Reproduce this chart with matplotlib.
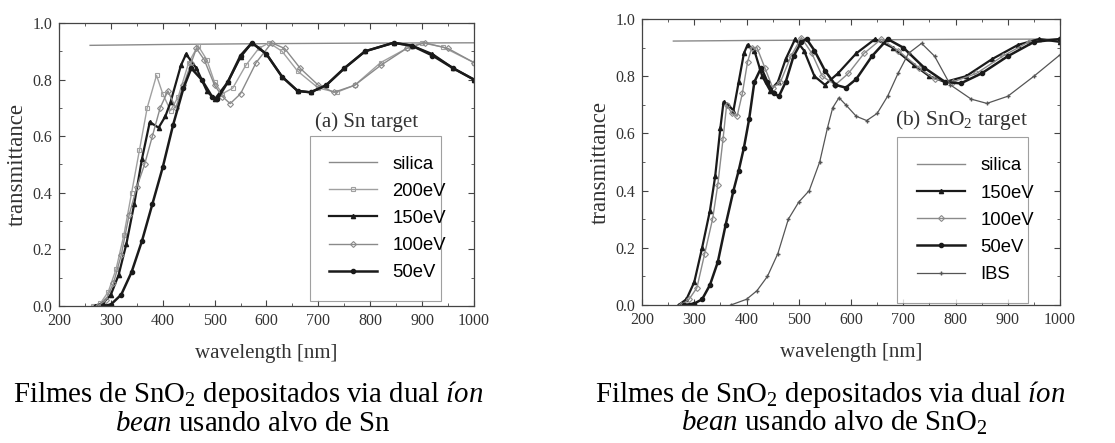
import numpy as np
import matplotlib.pyplot as plt
from matplotlib.ticker import MultipleLocator

plt.rcParams['font.family'] = 'Liberation Serif'
plt.rcParams['mathtext.fontset'] = 'custom'
plt.rcParams['mathtext.rm'] = 'Liberation Serif'
plt.rcParams['mathtext.it'] = 'Liberation Serif:italic'

# (a) Sn target
sn_silica_wl = [260, 400, 600, 800, 1000]
sn_silica_t = [0.921, 0.924, 0.927, 0.929, 0.930]

sn_200_wl = [265, 280, 295, 310, 325, 340, 355, 370, 388, 400, 415, 430, 450,
             468, 485, 500, 515, 535, 560, 585, 605, 630, 660, 700, 735, 770,
             820, 870, 900, 940, 1000]
sn_200_t = [0.0, 0.01, 0.05, 0.13, 0.25, 0.40, 0.55, 0.70, 0.815, 0.75, 0.69,
            0.74, 0.86, 0.92, 0.87, 0.79, 0.75, 0.77, 0.85, 0.91, 0.93, 0.90,
            0.83, 0.77, 0.755, 0.78, 0.86, 0.91, 0.93, 0.915, 0.86]

sn_150_wl = [270, 285, 300, 315, 330, 345, 360, 375, 392, 405, 415, 435, 445,
             465, 485, 500, 525, 550, 572, 600, 630, 660, 685, 715, 750, 790,
             845, 880, 920, 960, 1000]
sn_150_t = [0.0, 0.01, 0.04, 0.11, 0.22, 0.36, 0.52, 0.65, 0.63, 0.67, 0.72,
            0.85, 0.89, 0.84, 0.76, 0.73, 0.79, 0.88, 0.93, 0.89, 0.81, 0.76,
            0.755, 0.78, 0.84, 0.90, 0.93, 0.92, 0.89, 0.84, 0.80]

sn_100_wl = [275, 290, 305, 320, 335, 350, 365, 380, 395, 410, 425, 440, 455,
             465, 480, 500, 515, 530, 550, 580, 610, 635, 665, 700, 730, 770,
             820, 870, 905, 950, 1000]
sn_100_t = [0.0, 0.02, 0.08, 0.18, 0.32, 0.42, 0.50, 0.60, 0.70, 0.76, 0.70,
            0.78, 0.86, 0.91, 0.87, 0.78, 0.74, 0.715, 0.75, 0.86, 0.93, 0.91,
            0.84, 0.78, 0.755, 0.78, 0.85, 0.91, 0.93, 0.91, 0.86]

sn_50_wl = [285, 300, 320, 340, 360, 380, 400, 420, 440, 455, 475, 495, 505,
            525, 550, 572, 600, 630, 660, 685, 715, 750, 790, 845, 880, 920,
            960, 1000]
sn_50_t = [0.0, 0.005, 0.04, 0.12, 0.23, 0.36, 0.49, 0.64, 0.77, 0.84, 0.80,
           0.74, 0.73, 0.79, 0.885, 0.93, 0.89, 0.81, 0.76, 0.755, 0.78, 0.84,
           0.90, 0.93, 0.92, 0.885, 0.84, 0.80]

# (b) SnO2 target
so2_silica_wl = [260, 400, 600, 800, 1000]
so2_silica_t = [0.923, 0.925, 0.927, 0.929, 0.930]

so2_150_wl = [270, 285, 300, 315, 330, 340, 350, 356, 365, 375, 385, 395, 402,
              415, 430, 445, 460, 475, 493, 510, 530, 550, 575, 610, 646, 680,
              720, 750, 780, 820, 870, 920, 960, 1000]
so2_150_t = [0.0, 0.02, 0.08, 0.20, 0.33, 0.45, 0.62, 0.71, 0.70, 0.68, 0.78,
             0.88, 0.91, 0.89, 0.80, 0.75, 0.78, 0.86, 0.93, 0.89, 0.80, 0.77,
             0.81, 0.88, 0.93, 0.90, 0.84, 0.80, 0.78, 0.80, 0.86, 0.91, 0.93,
             0.92]

so2_100_wl = [275, 290, 305, 320, 335, 345, 355, 362, 372, 382, 392, 402, 410,
              420, 435, 450, 465, 485, 505, 525, 545, 570, 595, 625, 658, 690,
              730, 760, 795, 840, 890, 940, 1000]
so2_100_t = [0.0, 0.02, 0.06, 0.18, 0.30, 0.42, 0.58, 0.70, 0.67, 0.66, 0.74,
             0.85, 0.90, 0.90, 0.83, 0.76, 0.78, 0.87, 0.935, 0.88, 0.80, 0.77,
             0.81, 0.88, 0.93, 0.89, 0.83, 0.79, 0.78, 0.81, 0.87, 0.92, 0.93]

so2_50_wl = [280, 300, 315, 330, 345, 360, 375, 385, 395, 405, 415, 428, 440,
             452, 462, 475, 490, 505, 515, 530, 550, 570, 590, 610, 640, 670,
             700, 740, 780, 810, 850, 900, 950, 1000]
so2_50_t = [0.0, 0.005, 0.02, 0.07, 0.15, 0.28, 0.40, 0.47, 0.55, 0.65, 0.78,
            0.83, 0.78, 0.74, 0.73, 0.78, 0.87, 0.92, 0.93, 0.89, 0.82, 0.77,
            0.76, 0.79, 0.87, 0.93, 0.90, 0.83, 0.78, 0.775, 0.81, 0.87, 0.92,
            0.93]

ibs_wl = [370, 400, 420, 440, 460, 480, 500, 520, 540, 555, 565, 577, 590,
          610, 630, 650, 670, 690, 710, 735, 760, 790, 830, 860, 900, 950, 1000]
ibs_t = [0.0, 0.02, 0.05, 0.10, 0.18, 0.30, 0.36, 0.40, 0.50, 0.62, 0.69,
         0.725, 0.70, 0.66, 0.645, 0.67, 0.73, 0.81, 0.88, 0.915, 0.87, 0.77,
         0.72, 0.705, 0.73, 0.80, 0.875]

GREY = '#8a8a8a'
DARK = '#1a1a1a'


def setup(ax):
    ax.set_xlim(200, 1000)
    ax.set_ylim(0, 1.0)
    ax.xaxis.set_major_locator(MultipleLocator(100))
    ax.xaxis.set_minor_locator(MultipleLocator(50))
    ax.yaxis.set_major_locator(MultipleLocator(0.2))
    ax.yaxis.set_minor_locator(MultipleLocator(0.1))
    ax.yaxis.set_major_formatter(plt.FormatStrFormatter('%.1f'))
    ax.tick_params(which='both', direction='in', top=True, right=True,
                   labelsize=11.5, color='#444444', labelcolor='#333333')
    ax.tick_params(which='major', length=4, pad=5)
    ax.tick_params(which='minor', length=2)
    for s in ax.spines.values():
        s.set_color('#444444')
        s.set_linewidth(0.9)
    ax.set_xlabel('wavelength [nm]', fontsize=15, color='#333333', labelpad=11)
    ax.set_ylabel('transmittance', fontsize=16.5, color='#333333', labelpad=3)


fig = plt.figure(figsize=(11.15, 4.43), dpi=100)
ax1 = fig.add_axes([0.0529, 0.3093, 0.3722, 0.6388])
ax2 = fig.add_axes([0.5758, 0.3115, 0.3749, 0.6455])

ax1.plot(sn_silica_wl, sn_silica_t, color=GREY, lw=1, label='silica')
ax1.plot(sn_200_wl, sn_200_t, color='#a0a0a0', lw=1, marker='s', ms=3,
         mfc='none', mew=0.8, label='200eV')
ax1.plot(sn_150_wl, sn_150_t, color=DARK, lw=1.6, marker='^', ms=3,
         label='150eV')
ax1.plot(sn_100_wl, sn_100_t, color=GREY, lw=1, marker='D', ms=3,
         mfc='none', mew=0.8, label='100eV')
ax1.plot(sn_50_wl, sn_50_t, color=DARK, lw=1.8, marker='o', ms=3,
         label='50eV')
setup(ax1)
ax1.text(0.617, 0.65, '(a) Sn target', transform=ax1.transAxes,
         fontsize=15, color='#333333', va='center')
leg1 = ax1.legend(loc='upper left', bbox_to_anchor=(0.605, 0.032, 0.315, 0.568),
                  mode='expand', handlelength=2.6, labelspacing=0.55,
                  borderpad=1.05, borderaxespad=0, fancybox=False,
                  prop={'family': 'Liberation Sans', 'size': 13.3})
leg1.get_frame().set_edgecolor('#888888')
leg1.get_frame().set_linewidth(0.8)

ax2.plot(so2_silica_wl, so2_silica_t, color=GREY, lw=1, label='silica')
ax2.plot(so2_150_wl, so2_150_t, color=DARK, lw=1.6, marker='^', ms=3,
         label='150eV')
ax2.plot(so2_100_wl, so2_100_t, color=GREY, lw=1, marker='D', ms=3,
         mfc='none', mew=0.8, label='100eV')
ax2.plot(so2_50_wl, so2_50_t, color=DARK, lw=1.8, marker='o', ms=3,
         label='50eV')
ax2.plot(ibs_wl, ibs_t, color='#555555', lw=0.9, marker='+', ms=3,
         label='IBS')
setup(ax2)
ax2.text(0.605, 0.647, r'(b) SnO$_2$ target', transform=ax2.transAxes,
         fontsize=15.5, color='#333333', va='center')
leg2 = ax2.legend(loc='upper left', bbox_to_anchor=(0.610, 0.01, 0.313, 0.577),
                  mode='expand', handlelength=2.6, labelspacing=0.55,
                  borderpad=1.1, borderaxespad=0, fancybox=False,
                  prop={'family': 'Liberation Sans', 'size': 13.3})
leg2.get_frame().set_edgecolor('#888888')
leg2.get_frame().set_linewidth(0.8)

cap = 20.8
fig.text(248 / 1115, 1 - 402 / 443,
         r'Filmes de SnO$_2$ depositados via dual $\mathit{íon}$',
         ha='center', va='baseline', fontsize=cap)
fig.text(253 / 1115, 1 - 431 / 443, r'$\mathit{bean}$ usando alvo de Sn',
         ha='center', va='baseline', fontsize=cap)
fig.text(830 / 1115, 1 - 402 / 443,
         r'Filmes de SnO$_2$ depositados via dual $\mathit{íon}$',
         ha='center', va='baseline', fontsize=cap)
fig.text(834 / 1115, 1 - 431 / 443, r'$\mathit{bean}$ usando alvo de SnO$_2$',
         ha='center', va='baseline', fontsize=cap)

fig.savefig('out.png', dpi=100)
